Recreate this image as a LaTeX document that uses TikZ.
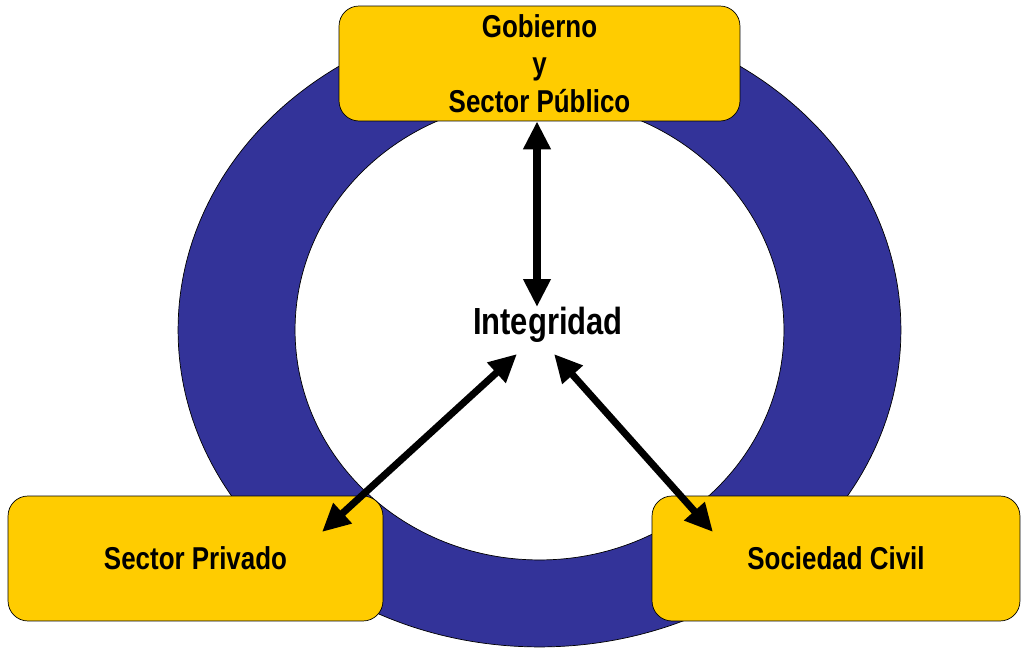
\documentclass[tikz,border=0pt]{standalone}
\usepackage{fontspec}
\setmainfont{Liberation Sans}[FakeStretch=0.82]
\usetikzlibrary{arrows.meta}
\definecolor{ringblue}{HTML}{333399}
\definecolor{boxgold}{HTML}{FFCC00}
\tikzset{
  sector/.style={draw, fill=boxgold, rounded corners=0.4cm, align=center, inner sep=0pt, font=\bfseries\fontsize{18}{21.3}\selectfont},
  link/.style={line width=4pt, {Triangle[length=0.56cm,width=0.52cm]}-{Triangle[length=0.56cm,width=0.52cm]}}
}

\begin{document}
\begin{tikzpicture}[x=0.02cm,y=-0.02cm]
  \useasboundingbox (0,0) rectangle (1022,648);
  \fill[ringblue, draw=black, even odd rule] (539.5,330) ellipse [x radius=7.23cm, y radius=6.34cm]
    (539.5,330) ellipse [x radius=4.89cm, y radius=4.6cm];
  \node[sector, minimum width=8.02cm, minimum height=2.3cm] (gob) at (539.5,63.5){Gobierno\\y\\Sector Público};
  \node[sector, minimum width=7.5cm, minimum height=2.5cm] (priv) at (195.5,558.5){Sector Privado};
  \node[sector, minimum width=7.36cm, minimum height=2.5cm] (civ) at (836,558.5){Sociedad Civil};
  \node[font=\bfseries\fontsize{21.5}{24}\selectfont] (int) at (548,325){Integridad};
  \coordinate (1) at (537,307);
  \coordinate (2) at (517,354);
  \coordinate (3) at (554,354);
  \coordinate (4) at (322,532);
  \coordinate (5) at (713,532);
  \draw[link] (gob.south -| 1)--(1);
  \draw[link] (2)--(4);
  \draw[link] (3)--(5);
\end{tikzpicture}
\end{document}
